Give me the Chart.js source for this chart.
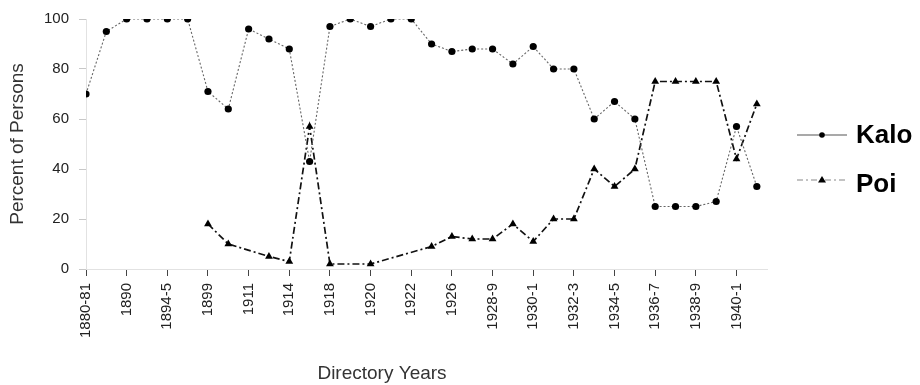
<!DOCTYPE html>
<html>
<head>
<meta charset="utf-8">
<title>Kalo and Poi by Directory Year</title>
<script src="https://cdn.jsdelivr.net/npm/chart.js@4.4.1/dist/chart.umd.min.js"></script>
<style>
  html, body { margin: 0; padding: 0; background: #fff; }
  #wrap { width: 920px; height: 385px; position: relative; }
</style>
</head>
<body>
<div id="wrap"><canvas id="chart" width="920" height="385"></canvas></div>
<script>
// Directory years (every other one is labelled on the axis)
const years = [
  '1880-81', '1884-5', '1890', '1892-3', '1894-5', '1896-7', '1899', '1905',
  '1911', '1912', '1914', '1916', '1918', '1919', '1920', '1921',
  '1922', '1924', '1926', '1927-8', '1928-9', '1929-30', '1930-1', '1931-2',
  '1932-3', '1933-4', '1934-5', '1935-6', '1936-7', '1937-8', '1938-9', '1939-40',
  '1940-1', '1941-2'
];

// Percent of persons listed in each trade
const kalo = [
  70, 95, 100, 100, 100, 100, 71, 64,
  96, 92, 88, 43, 97, 100, 97, 100,
  100, 90, 87, 88, 88, 82, 89, 80,
  80, 60, 67, 60, 25, 25, 25, 27,
  57, 33
];
const poi = [
  null, null, null, null, null, null, 18, 10,
  null, 5, 3, 57, 2, null, 2, null,
  null, 9, 13, 12, 12, 18, 11, 20,
  20, 40, 33, 40, 75, 75, 75, 75,
  44, 66
];

const yTicks = [0, 20, 40, 60, 80, 100];

const FONT = "'Liberation Sans', Arial, Helvetica, sans-serif";

// Legend drawn at the right with a line sample and marker, plus the x title
const sideLegend = {
  id: 'sideLegend',
  afterDraw(chart) {
    const ctx = chart.ctx;
    ctx.save();
    // x axis title
    ctx.fillStyle = '#333';
    ctx.font = '19px ' + FONT;
    ctx.textAlign = 'center';
    ctx.textBaseline = 'alphabetic';
    ctx.fillText('Directory Years', 382, 379);

    const items = [
      { text: 'Kalo', y: 135, base: 143, dash: [], color: '#555', style: 'circle' },
      { text: 'Poi', y: 180, base: 192, dash: [6, 3, 2, 3], color: '#888', style: 'triangle' }
    ];
    items.forEach(it => {
      ctx.beginPath();
      ctx.setLineDash(it.dash);
      ctx.strokeStyle = it.color;
      ctx.lineWidth = 1.2;
      ctx.moveTo(797, it.y);
      ctx.lineTo(847, it.y);
      ctx.stroke();
      ctx.setLineDash([]);
      ctx.fillStyle = '#000';
      ctx.beginPath();
      if (it.style === 'circle') {
        ctx.arc(822, it.y, 2.8, 0, Math.PI * 2);
      } else {
        ctx.moveTo(822, it.y - 4);
        ctx.lineTo(826, it.y + 2.5);
        ctx.lineTo(818, it.y + 2.5);
        ctx.closePath();
      }
      ctx.fill();
      ctx.font = 'bold 26px ' + FONT;
      ctx.textAlign = 'left';
      ctx.textBaseline = 'alphabetic';
      ctx.fillStyle = '#000';
      ctx.fillText(it.text, 856, it.base);
    });
    ctx.restore();
  }
};

new Chart(document.getElementById('chart'), {
  type: 'line',
  data: {
    datasets: [
      {
        label: 'Kalo',
        data: kalo.map((v, i) => ({ x: i, y: v })),
        borderColor: '#666',
        borderWidth: 1.1,
        borderDash: [2, 2],
        pointStyle: 'circle',
        pointRadius: 3.6,
        pointBackgroundColor: '#000',
        pointBorderColor: '#000',
        pointBorderWidth: 0,
        tension: 0
      },
      {
        label: 'Poi',
        data: poi.map((v, i) => ({ x: i, y: v })),
        borderColor: '#111',
        borderWidth: 1.7,
        borderDash: [7, 3, 2, 3],
        pointStyle: 'triangle',
        pointRadius: 4.5,
        pointBackgroundColor: '#000',
        pointBorderColor: '#000',
        pointBorderWidth: 0,
        spanGaps: true,
        tension: 0
      }
    ]
  },
  options: {
    responsive: false,
    animation: false,
    layout: { padding: { top: 19, right: 153, bottom: 0, left: 0 } },
    plugins: {
      legend: { display: false },
      tooltip: { enabled: false }
    },
    scales: {
      x: {
        type: 'linear',
        min: 0,
        max: 33.5,
        afterBuildTicks(scale) {
          scale.ticks = years.map((_, i) => i).filter(i => i % 2 === 0).map(v => ({ value: v }));
        },
        afterFit(scale) { scale.height = 116; },
        ticks: {
          autoSkip: false,
          minRotation: 90,
          maxRotation: 90,
          padding: 7,
          color: '#222',
          font: { family: FONT, size: 15 },
          callback: (v) => years[v]
        },
        grid: {
          drawOnChartArea: false,
          drawTicks: true,
          tickLength: 7,
          color: '#444',
          lineWidth: 1
        },
        border: { display: true, color: '#e2e2e2', width: 1 }
      },
      y: {
        min: 0,
        max: 100,
        afterBuildTicks(scale) {
          scale.ticks = yTicks.map(v => ({ value: v }));
        },
        afterFit(scale) { scale.width = 86; },
        ticks: {
          padding: 10,
          color: '#222',
          font: { family: FONT, size: 15 }
        },
        grid: {
          drawOnChartArea: false,
          drawTicks: true,
          tickLength: 7,
          color: '#c8c8c8'
        },
        border: { display: true, color: '#e2e2e2', width: 1 },
        title: {
          display: true,
          text: 'Percent of Persons',
          color: '#333',
          font: { family: FONT, size: 19 },
          padding: { top: 6, bottom: 0 }
        }
      }
    }
  },
  plugins: [sideLegend]
});
</script>
</body>
</html>
